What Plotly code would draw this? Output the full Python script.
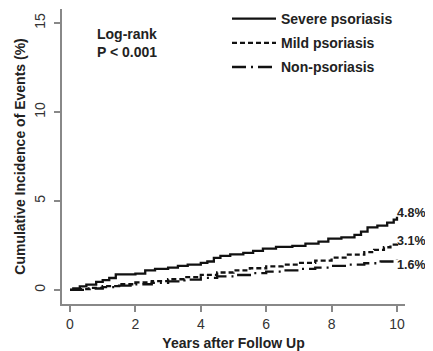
import plotly.graph_objects as go

# ---- data ----
severe_t = [0, 0.1, 0.3, 0.5, 0.8, 1.0, 1.2, 1.4, 1.7, 2.0, 2.3, 2.6, 3.0, 3.3, 3.6, 4.0, 4.2, 4.4,
            4.6, 4.9, 5.3, 5.6, 5.9, 6.3, 6.8, 7.2, 7.6, 7.9, 8.3, 8.7, 8.9, 9.1, 9.4, 9.7, 9.9, 10.0]
severe_v = [0, 0.08, 0.2, 0.3, 0.45, 0.55, 0.67, 0.87, 0.88, 0.92, 1.1, 1.18, 1.25, 1.35, 1.42, 1.52,
            1.6, 1.8, 1.92, 2.0, 2.08, 2.2, 2.32, 2.42, 2.48, 2.6, 2.72, 2.88, 2.95, 3.1, 3.28, 3.52,
            3.62, 3.78, 3.95, 4.12]

mild_t = [0, 0.3, 0.6, 1.0, 1.5, 2.0, 2.5, 3.0, 3.5, 4.0, 4.5, 5.0, 5.5, 6.0, 6.5, 7.0, 7.5, 8.0,
          8.5, 9.0, 9.3, 9.6, 9.8, 10.0]
mild_v = [0, 0.05, 0.12, 0.22, 0.32, 0.42, 0.5, 0.6, 0.72, 0.85, 0.98, 1.1, 1.22, 1.33, 1.42, 1.52,
          1.65, 1.82, 1.98, 2.12, 2.25, 2.4, 2.55, 2.7]

non_t = [0, 0.5, 1.0, 1.5, 2.0, 2.5, 3.0, 3.5, 4.0, 4.5, 5.0, 5.5, 6.0, 6.5, 7.0, 7.5, 8.0, 8.5,
         9.0, 9.5, 10.0]
non_v = [0, 0.08, 0.16, 0.24, 0.32, 0.4, 0.48, 0.58, 0.68, 0.76, 0.84, 0.94, 1.03, 1.1, 1.18, 1.26,
         1.35, 1.42, 1.5, 1.6, 1.69]

series_names = ["Severe psoriasis", "Mild psoriasis", "Non-psoriasis"]
end_labels = ["4.8%", "3.1%", "1.6%"]
end_label_y = [4.33, 2.75, 1.40]

x_ticks = [0, 2, 4, 6, 8, 10]
y_ticks = [0, 5, 10, 15]

FONT = "Liberation Sans, Arial, sans-serif"
INK = "#111111"

# The page body has an 8px default margin; lay out in page pixels and offset.
OFF = 8
PAGE_W, PAGE_H = 433, 351
W, H = PAGE_W - OFF, PAGE_H - OFF
# plot area in page pixels: x 62..405, y 9..304
ml = 62 - OFF
mr = W - (405 - OFF)
mt = 9 - OFF
mb = H - (304 - OFF)
pw, ph = W - ml - mr, H - mt - mb


def px_x(p):  # page pixel -> paper
    return (p - OFF - ml) / pw


def px_y(p):
    return 1 - (p - OFF - mt) / ph


fig = go.Figure()
dashes = ["solid", "5px,3px", "14px,5px,2px,5px"]
for i, (t, v) in enumerate([(severe_t, severe_v), (mild_t, mild_v), (non_t, non_v)]):
    fig.add_trace(go.Scatter(
        x=t, y=v, mode="lines", name=series_names[i], legendgroup=str(i),
        line=dict(color=INK, width=2.3, dash=dashes[i], shape="hv"),
    ))

for lab, yv in zip(end_labels, end_label_y):
    fig.add_annotation(x=9.95, y=yv, xref="x", yref="y", text="<b>%s</b>" % lab,
                       showarrow=False, xanchor="left", yanchor="middle",
                       font=dict(family=FONT, size=12.5, color="#222"))

fig.add_annotation(x=px_x(95), y=px_y(43), xref="paper", yref="paper",
                   text="<b>Log-rank<br>P < 0.001</b>",
                   showarrow=False, xanchor="left", yanchor="middle", align="left",
                   font=dict(family=FONT, size=14, color="#222"))

fig.update_layout(
    width=W, height=H,
    margin=dict(l=ml, r=mr, t=mt, b=mb, autoexpand=False),
    paper_bgcolor="white", plot_bgcolor="white",
    font=dict(family=FONT, size=14, color="#333"),
    showlegend=True,
    legend=dict(x=px_x(227), y=px_y(3), xanchor="left", yanchor="top",
                itemwidth=44, tracegroupgap=3, traceorder="grouped",
                font=dict(family=FONT, size=14, color="#222", weight="bold"),
                bgcolor="rgba(0,0,0,0)"),
    xaxis=dict(range=[-0.245, 10.245], tickvals=x_ticks, showgrid=False, zeroline=False,
               showline=True, linecolor="#888", linewidth=1.5, ticks="outside", ticklen=6,
               tickcolor="#888", tickwidth=1.5, automargin=False,
               tickfont=dict(family=FONT, size=14, color="#333"),
               title=dict(text="<b>Years after Follow Up</b>", standoff=8,
                          font=dict(family=FONT, size=14, color="#222"))),
    yaxis=dict(range=[-0.79, 15.79], tickvals=y_ticks, showgrid=False, zeroline=False,
               showline=True, linecolor="#888", linewidth=1.5, ticks="outside", ticklen=6,
               tickcolor="#888", tickwidth=1.5, tickangle=-90, automargin=False,
               ticklabelstandoff=4,
               tickfont=dict(family=FONT, size=14, color="#333"),
               title=dict(text="<b>Cumulative Incidence of Events (%)</b>", standoff=3,
                          font=dict(family=FONT, size=14, color="#222"))),
)

fig.write_html("out.html")
